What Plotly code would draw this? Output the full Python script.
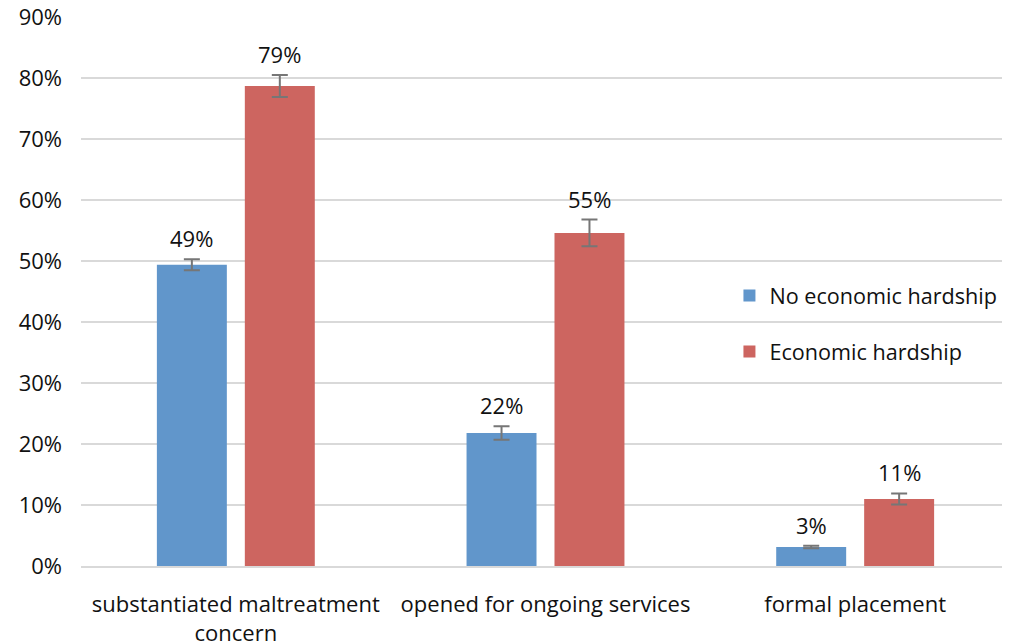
import plotly.graph_objects as go

categories = ["substantiated maltreatment<br>concern", "opened for ongoing services", "formal placement"]
series_names = ["No economic hardship", "Economic hardship"]
no_hardship = [49.4, 21.8, 3.1]
no_hardship_err = [0.9, 1.1, 0.2]
hardship = [78.7, 54.6, 11.0]
hardship_err = [1.8, 2.2, 0.9]
labels_no = ["49%", "22%", "3%"]
labels_yes = ["79%", "55%", "11%"]
yticks = [0, 10, 20, 30, 40, 50, 60, 70, 80, 90]
ytick_text = [f"{v}%" for v in yticks]

colors = ["#6196CB", "#CD6560"]
FONT = "Open Sans, Noto Sans, sans-serif"

fig = go.Figure()
for i, (name, vals, errs, col) in enumerate(zip(series_names, [no_hardship, hardship],
                                             [no_hardship_err, hardship_err], colors)):
    fig.add_trace(go.Bar(
        x=categories, y=vals, name=name, legendgroup=f"g{i}",
        marker=dict(color=col, line=dict(width=0)),
        error_y=dict(type="data", array=errs, visible=True, color="#767676",
                     thickness=2, width=8),
        offsetgroup=str(i),
    ))

# value labels
for k, (vals, errs, labs) in enumerate([(no_hardship, no_hardship_err, labels_no),
                                         (hardship, hardship_err, labels_yes)]):
    for c, v, e, t in zip(categories, vals, errs, labs):
        fig.add_annotation(x=c, y=v + e, text=t, showarrow=False, yanchor="bottom",
                           yshift=4, xshift=(-44 if k == 0 else 44),
                           font=dict(family=FONT, size=22, color="#111"))

fig.update_layout(
    width=1002, height=635,
    margin=dict(l=73, r=0, t=9, b=77),
    paper_bgcolor="white", plot_bgcolor="white",
    barmode="group", bargap=0.432, bargroupgap=0.2045,
    font=dict(family=FONT, size=20, color="#111"),
    legend=dict(x=0.698, y=0.441, xanchor="left", yanchor="middle",
                traceorder="grouped", tracegroupgap=25,
                font=dict(family=FONT, size=21.6, color="#111"),
                bgcolor="rgba(0,0,0,0)", itemwidth=30),
    showlegend=True,
)
fig.update_yaxes(range=[0, 90], tickvals=yticks, ticktext=ytick_text,
                 showgrid=True, gridcolor="#D9D9D9", gridwidth=1.5,
                 zeroline=False, showline=False, ticklabelstandoff=18,
                 ticklabeloverflow="allow",
                 tickfont=dict(size=22), automargin=False)
fig.update_xaxes(showline=True, linecolor="#D9D9D9", linewidth=1.5,
                 ticklabelstandoff=18, ticklabeloverflow="allow",
                 tickfont=dict(size=22), automargin=False)

fig.write_html("out.html")
